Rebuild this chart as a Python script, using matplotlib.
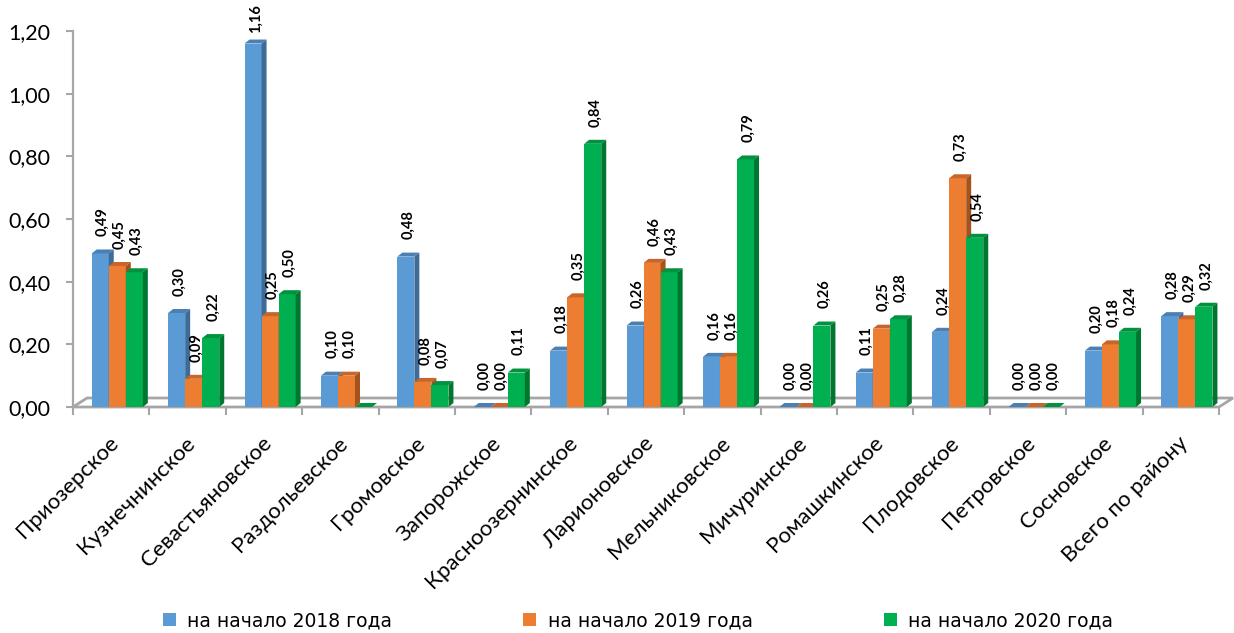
import matplotlib.pyplot as plt
from matplotlib.patches import Polygon, Rectangle

# categories and values
categories = ['Приозерское', 'Кузнечнинское', 'Севастьяновское', 'Раздольевское',
              'Громовское', 'Запорожское', 'Красноозернинское', 'Ларионовское',
              'Мельниковское', 'Мичуринское', 'Ромашкинское', 'Плодовское',
              'Петровское', 'Сосновское', 'Всего по району']
v2018 = [0.49, 0.30, 1.16, 0.10, 0.48, 0.00, 0.18, 0.26, 0.16, 0.00, 0.11, 0.24, 0.00, 0.18, 0.29]
v2019 = [0.45, 0.09, 0.29, 0.10, 0.08, 0.00, 0.35, 0.46, 0.16, 0.00, 0.25, 0.73, 0.00, 0.20, 0.28]
v2020 = [0.43, 0.22, 0.36, 0.00, 0.07, 0.11, 0.84, 0.43, 0.79, 0.26, 0.28, 0.54, 0.00, 0.24, 0.32]

# data labels as printed on the chart
lab2018 = ['0,49', '0,30', '1,16', '0,10', '0,48', '0,00', '0,18', '0,26', '0,16', '0,00', '0,11', '0,24', '0,00', '0,20', '0,28']
lab2019 = ['0,45', '0,09', '0,25', '0,10', '0,08', '0,00', '0,35', '0,46', '0,16', '0,00', '0,25', '0,73', '0,00', '0,18', '0,29']
lab2020 = ['0,43', '0,22', '0,50', '', '0,07', '0,11', '0,84', '0,43', '0,79', '0,26', '0,28', '0,54', '0,00', '0,24', '0,32']

series = ['на начало 2018 года', 'на начало 2019 года', 'на начало 2020 года']
yticks = [0, 0.2, 0.4, 0.6, 0.8, 1.0, 1.2]

front = ['#5B9BD5', '#ED7D31', '#00B050']
top = ['#4A80B4', '#C8652A', '#00923F']
side = ['#3F6C96', '#A4531C', '#00772F']

fig = plt.figure(figsize=(12.34, 6.33), dpi=100)
ax = fig.add_axes([73 / 1234, 226 / 633, 1146 / 1234, 376 / 633])
ax.set_xlim(0, 15)
ax.set_ylim(0, 1.2)

dx = 5 / 76.4   # bar depth in category units
dy = 4 / 313.3  # bar depth in value units
w = 0.223
start = 0.245

# floor
fx, fy = 14 / 76.4, 9 / 313.3
ax.add_patch(Polygon([(0, 0), (15, 0), (15 + fx, fy), (fx, fy)], closed=True,
                     fill=False, edgecolor='#a6a6a6', lw=2, clip_on=False, zorder=1))


def bar3d(x0, h, k):
    ax.add_patch(Rectangle((x0, 0), w, h, facecolor=front[k], edgecolor='none', zorder=3))
    ax.add_patch(Polygon([(x0, h), (x0 + w, h), (x0 + w + dx, h + dy), (x0 + dx, h + dy)],
                         closed=True, facecolor=top[k], edgecolor='none', zorder=3))
    ax.add_patch(Polygon([(x0 + w, 0), (x0 + w + dx, dy), (x0 + w + dx, h + dy), (x0 + w, h)],
                         closed=True, facecolor=side[k], edgecolor='none', zorder=3))


for i in range(len(categories)):
    for k, (vals, labs) in enumerate([(v2018, lab2018), (v2019, lab2019), (v2020, lab2020)]):
        x0 = i + start + k * w
        bar3d(x0, vals[i], k)
        if labs[i]:
            ly = min(vals[i] + 0.055, 1.195)  # keep top label inside the figure
            ax.text(x0 + w / 2 + dx / 2, ly, labs[i], rotation=90,
                    ha='center', va='bottom', fontsize=10.5, fontweight='bold',
                    family='Lato', zorder=5)

# axes styling
for s in ['top', 'right', 'bottom']:
    ax.spines[s].set_visible(False)
ax.spines['left'].set_color('#a6a6a6')
ax.spines['left'].set_linewidth(1.6)
ax.set_yticks(yticks)
ax.set_yticklabels([('%.2f' % t).replace('.', ',') for t in yticks])
ax.tick_params(axis='y', colors='#a6a6a6', labelcolor='black', length=5, width=1.5,
               pad=11, labelsize=15.5)
for t in ax.get_yticklabels():
    t.set_family('Lato')
ax.set_xticks(range(16))
ax.set_xticklabels([])
ax.tick_params(axis='x', colors='#a6a6a6', length=6, width=1.5)

for i, name in enumerate(categories):
    ax.text(i + 0.56, -0.105, name, rotation=45, rotation_mode='anchor',
            ha='right', va='center', fontsize=16, family='Lato')

handles = [Rectangle((0, 0), 1, 1, facecolor=c) for c in front]
fig.legend(handles, series, loc='lower center', ncol=3, bbox_to_anchor=(0.517, -0.022),
           frameon=False, fontsize=13.5, handlelength=0.7, handleheight=0.7,
           handletextpad=0.6, columnspacing=7.0)

fig.savefig('out.png', dpi=100)
